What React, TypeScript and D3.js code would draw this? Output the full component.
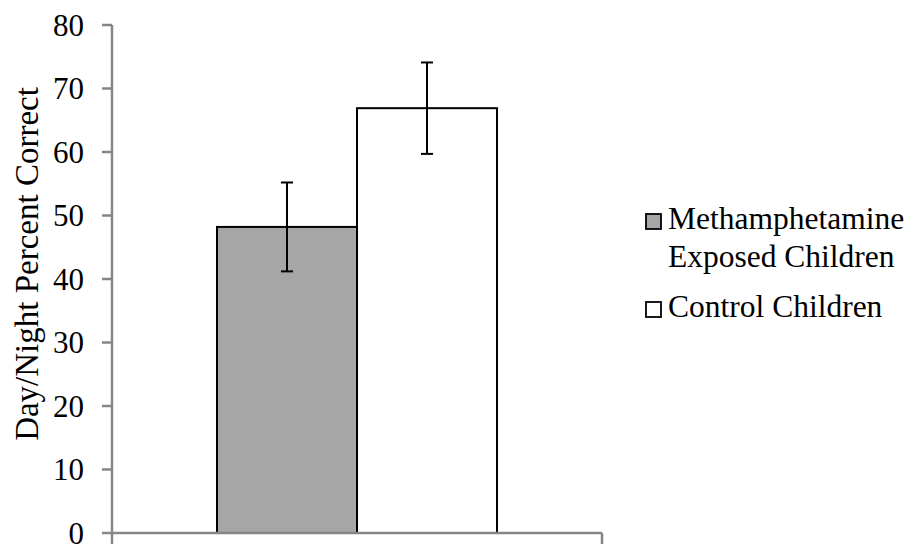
import React from "react";
import * as d3 from "d3";

const categories = ["Methamphetamine Exposed Children", "Control Children"];
const legendLines = [["Methamphetamine", "Exposed Children"], ["Control Children"]];
const means = [48.2, 66.9];
const errors = [7.0, 7.2];
const fills = ["#a6a6a6", "#ffffff"];
const yTicks = [0, 10, 20, 30, 40, 50, 60, 70, 80];
const yLabel = "Day/Night Percent Correct";

export default function App() {
  const W = 913, H = 544;
  const x0 = 112, x1 = 602;
  const y = d3.scaleLinear().domain([0, 80]).range([533, 25]);
  const group = d3.scaleBand().domain(["g"]).range([x0, x1]).paddingInner(0).paddingOuter(0);
  const gx = group("g")!;
  const gw = group.bandwidth();
  const inner = d3.scaleBand().domain(categories).range([gx + gw * 0.2143, gx + gw * (1 - 0.2143)]);
  const font = "'Liberation Serif', 'Times New Roman', serif";
  const axisColor = "#868686";
  return (
    <svg width={W} height={H} style={{ position: "absolute", left: 0, top: 0, background: "#fff" }}>
      <rect x={0} y={0} width={W} height={H} fill="#fff" />
      {categories.map((c, i) => (
        <rect key={c} x={inner(c)} y={y(means[i])} width={inner.bandwidth()} height={y(0) - y(means[i])}
          fill={fills[i]} stroke="#000" strokeWidth={2} />
      ))}
      {categories.map((c, i) => {
        const cx = inner(c)! + inner.bandwidth() / 2;
        const top = y(means[i] + errors[i]);
        const bot = y(means[i] - errors[i]);
        return (
          <g key={c + "e"} stroke="#000" strokeWidth={2}>
            <line x1={cx} x2={cx} y1={top} y2={bot} />
            <line x1={cx - 6} x2={cx + 6} y1={top} y2={top} />
            <line x1={cx - 6} x2={cx + 6} y1={bot} y2={bot} />
          </g>
        );
      })}
      <line x1={x0} x2={x0} y1={y(80)} y2={y(0)} stroke={axisColor} strokeWidth={2.5} />
      {yTicks.map(t => (
        <g key={t}>
          <line x1={x0 - 10} x2={x0} y1={y(t)} y2={y(t)} stroke={axisColor} strokeWidth={2.5} />
          <text x={84} y={y(t) + 10.5} textAnchor="end" fontFamily={font} fontSize={31} fill="#000">{t}</text>
        </g>
      ))}
      <line x1={x0} x2={x1} y1={y(0)} y2={y(0)} stroke={axisColor} strokeWidth={2.5} />
      <line x1={x0} x2={x0} y1={y(0)} y2={y(0) + 11} stroke={axisColor} strokeWidth={2.5} />
      <line x1={x1} x2={x1} y1={y(0)} y2={y(0) + 11} stroke={axisColor} strokeWidth={2.5} />
      <text transform={`translate(38,264) rotate(-90)`} textAnchor="middle" fontFamily={font} fontSize={33} fill="#000">{yLabel}</text>
      {legendLines.map((lines, i) => {
        const base = i === 0 ? 229 : 317;
        return (
          <g key={i}>
            <rect x={646} y={base - 15} width={15} height={15} fill={fills[i]} stroke="#000" strokeWidth={1.8} />
            {lines.map((l, j) => (
              <text key={j} x={668} y={base + j * 38} fontFamily={font} fontSize={31.5} fill="#000">{l}</text>
            ))}
          </g>
        );
      })}
    </svg>
  );
}
